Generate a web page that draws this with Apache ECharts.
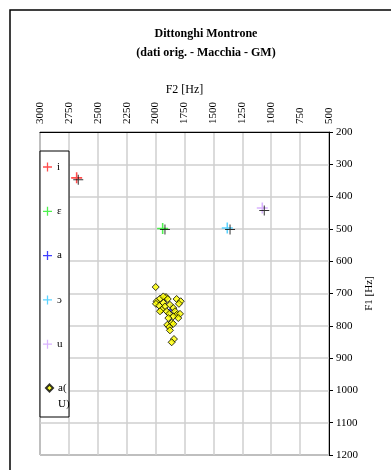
<!DOCTYPE html>
<html>
<head>
<meta charset="utf-8">
<script src="https://cdn.jsdelivr.net/npm/echarts@6/dist/echarts.min.js"></script>
<style>html,body{margin:0;padding:0;background:#fff}#c{width:391px;height:470px}</style>
</head>
<body>
<div id="c"></div>
<script>
// Vowel means (colored crosses) and comparison data (black crosses)
const vowelNames = ['i', 'ε', 'a', 'ɔ', 'u'];
const vowelColors = ['#ff2020', '#22ee22', '#1010ff', '#33c8ff', '#d0a0ff'];
const meanF2 = [2683, 1939, 1869, 1380, 1077];
const meanF1 = [342, 499, 750, 497, 435];
const gmF2 = [2669, 1919, 1356, 1060];
const gmF1 = [348, 502, 502, 443];
// a(U) tokens
const aUF2 = [1999, 1991, 1962, 1910, 1895, 1818, 1783, 1798, 1997, 1968, 1933, 1919, 1876, 1847, 1947, 1904, 1832, 1818, 1789, 1882, 1847, 1804, 1861, 1899, 1847, 1882, 1876, 1841, 1861, 1933, 1962, 1890];
const aUF1 = [680, 724, 716, 711, 717, 717, 724, 732, 732, 738, 729, 740, 735, 745, 750, 755, 755, 766, 763, 763, 771, 776, 791, 797, 794, 804, 814, 841, 851, 709, 755, 776];
const xTicks = {min: 500, max: 3000, interval: 250};
const yTicks = {min: 200, max: 1200, interval: 100};

const plus = 'path://M4.3,0H5.7V4.3H10V5.7H5.7V10H4.3V5.7H0V4.3H4.3Z';
const plusThin = 'path://M4.5,0H5.5V4.5H10V5.5H5.5V10H4.5V5.5H0V4.5H4.5Z';
const serif = 'Liberation Serif, Times New Roman, serif';

const series = [];
// blue 'a' first so the a(U) cloud sits over it
const order = [2, 0, 1, 3, 4];
order.forEach(function (k) {
  series.push({
    name: vowelNames[k], type: 'scatter', symbol: plus, symbolSize: 11,
    itemStyle: {color: vowelColors[k]}, z: k === 2 ? 1 : 3,
    data: [[meanF2[k], meanF1[k]]]
  });
});
series.push({
  name: 'a(U)', type: 'scatter', symbol: 'diamond', symbolSize: 7,
  itemStyle: {color: '#ffff00', borderColor: '#000', borderWidth: 1}, z: 2,
  data: aUF2.map(function (v, i) { return [v, aUF1[i]]; })
});
series.push({
  name: 'GM', type: 'scatter', symbol: plusThin, symbolSize: 10,
  itemStyle: {color: '#000'}, z: 4,
  data: gmF2.map(function (v, i) { return [v, gmF1[i]]; })
});

const chart = echarts.init(document.getElementById('c'), null, {renderer: 'canvas'});
chart.setOption({
  animation: false,
  backgroundColor: '#fff',
  title: {
    text: 'Dittonghi Montrone\n(dati orig. - Macchia - GM)',
    left: 201, top: 19, textAlign: 'center',
    textStyle: {fontFamily: serif, fontSize: 12, fontWeight: 'bold', color: '#000', lineHeight: 19}
  },
  graphic: [
    {type: 'rect', z: 0, shape: {x: 10, y: 10, width: 400, height: 480}, style: {fill: 'none', stroke: '#000', lineWidth: 1.5}},
    {type: 'rect', z: 100, shape: {x: 40, y: 151, width: 29, height: 266}, style: {fill: '#fff', stroke: '#000', lineWidth: 1}}
  ],
  legend: [
    {
      data: ['i', 'ε', 'a', 'ɔ', 'u'], orient: 'vertical', left: 43, top: 159, padding: 0,
      itemWidth: 9, itemHeight: 10, itemGap: 28.3, z: 200,
      textStyle: {fontFamily: serif, fontSize: 11, color: '#000', lineHeight: 16}
    },
    {
      data: ['a(U)'], orient: 'vertical', left: 45, top: 364, padding: 0,
      itemWidth: 7, itemHeight: 7, z: 200,
      formatter: function () { return ' \na(\nU)'; },
      textStyle: {fontFamily: serif, fontSize: 11, color: '#000', lineHeight: 16}
    }
  ],
  grid: {left: 40, top: 132, width: 289, height: 323, show: true, borderColor: '#222', borderWidth: 1},
  xAxis: {
    type: 'value', position: 'top', inverse: true,
    min: xTicks.min, max: xTicks.max, interval: xTicks.interval,
    name: 'F2 [Hz]', nameLocation: 'middle', nameGap: 36, nameMoveOverlap: false,
    nameTextStyle: {fontFamily: serif, fontSize: 12, color: '#000'},
    axisLine: {lineStyle: {color: '#000', width: 1}},
    axisTick: {show: false},
    axisLabel: {rotate: -90, margin: 8, fontFamily: serif, fontSize: 11, color: '#000',
      formatter: function (v) { return String(v); }},
    splitLine: {lineStyle: {color: '#cfcfcf', width: 1.5}}
  },
  yAxis: {
    type: 'value', position: 'right', inverse: true,
    min: yTicks.min, max: yTicks.max, interval: yTicks.interval,
    name: 'F1 [Hz]', nameLocation: 'middle', nameGap: 35, nameRotate: 90, nameMoveOverlap: false,
    nameTextStyle: {fontFamily: serif, fontSize: 11, color: '#000'},
    axisLine: {lineStyle: {color: '#000', width: 1}},
    axisTick: {show: true, length: 4, lineStyle: {color: '#000'}},
    axisLabel: {margin: 7, fontFamily: serif, fontSize: 11, color: '#000',
      formatter: function (v) { return String(v); }},
    splitLine: {lineStyle: {color: '#cfcfcf', width: 1.5}}
  },
  series: series
});
</script>
</body>
</html>
